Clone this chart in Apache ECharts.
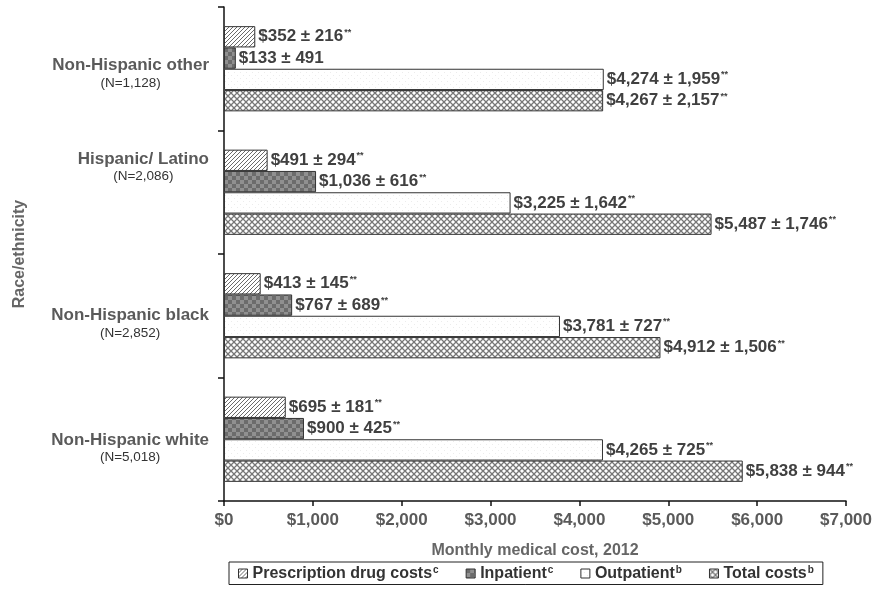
<!DOCTYPE html>
<html>
<head>
<meta charset="utf-8">
<script src="https://cdn.jsdelivr.net/npm/echarts@6/dist/echarts.min.js"></script>
<style>
  html, body { margin: 0; padding: 0; background: #fff; }
  #chart { width: 875px; height: 590px; }
</style>
</head>
<body>
<div id="chart"></div>
<script>
// Groups, listed top to bottom
const groups = ['Non-Hispanic other', 'Hispanic/ Latino', 'Non-Hispanic black', 'Non-Hispanic white'];
const groupN = ['1,128', '2,086', '2,852', '5,018'];

// Series names and their footnote marks
const seriesNames = ['Prescription drug costs', 'Inpatient', 'Outpatient', 'Total costs'];
const seriesNotes = ['c', 'c', 'b', 'b'];

// Mean monthly cost per group (USD), same order as groups
const rxMean = [352, 491, 413, 695];
const inpatientMean = [133, 1036, 767, 900];
const outpatientMean = [4274, 3225, 3781, 4265];
const totalMean = [4267, 5487, 4912, 5838];

// Standard deviations
const rxSd = [216, 294, 145, 181];
const inpatientSd = [491, 616, 689, 425];
const outpatientSd = [1959, 1642, 727, 725];
const totalSd = [2157, 1746, 1506, 944];

// Significance markers
const rxSig = ['**', '**', '**', '**'];
const inpatientSig = ['', '**', '**', '**'];
const outpatientSig = ['**', '**', '**', '**'];
const totalSig = ['**', '**', '**', '**'];

// X axis ticks
const xMin = 0, xMax = 7000, xStep = 1000;

const FONT = '"Liberation Sans", Arial, sans-serif';

function makeTile(w, h, draw) {
  const c = document.createElement('canvas');
  c.width = w; c.height = h;
  const ctx = c.getContext('2d');
  draw(ctx, w, h);
  return { image: c, repeat: 'repeat' };
}

// Fill patterns
const hatchFill = makeTile(4, 4, (ctx, w, h) => {
  ctx.fillStyle = '#fff'; ctx.fillRect(0, 0, w, h);
  ctx.strokeStyle = '#6a6a6a'; ctx.lineWidth = 1;
  ctx.beginPath();
  ctx.moveTo(-1, h + 1); ctx.lineTo(w + 1, -1);
  ctx.moveTo(-1, 1); ctx.lineTo(1, -1);
  ctx.moveTo(w - 1, h + 1); ctx.lineTo(w + 1, h - 1);
  ctx.stroke();
});
const checkFill = makeTile(8, 8, (ctx, w, h) => {
  ctx.fillStyle = '#909090'; ctx.fillRect(0, 0, w, h);
  ctx.fillStyle = '#6c6c6c';
  ctx.fillRect(0, 0, 4, 4); ctx.fillRect(4, 4, 4, 4);
});
const dotFill = makeTile(6, 6, (ctx, w, h) => {
  ctx.fillStyle = '#fff'; ctx.fillRect(0, 0, w, h);
  ctx.fillStyle = '#ececec';
  ctx.fillRect(0, 0, 1, 1); ctx.fillRect(3, 3, 1, 1);
});
const crossFill = makeTile(6, 6, (ctx, w, h) => {
  ctx.fillStyle = '#fff'; ctx.fillRect(0, 0, w, h);
  ctx.strokeStyle = '#777'; ctx.lineWidth = 1.3;
  ctx.beginPath();
  ctx.moveTo(0, 0); ctx.lineTo(w, h);
  ctx.moveTo(0, h); ctx.lineTo(w, 0);
  ctx.stroke();
});

const fills = [hatchFill, checkFill, dotFill, crossFill];
const means = [rxMean, inpatientMean, outpatientMean, totalMean];
const sds = [rxSd, inpatientSd, outpatientSd, totalSd];
const sigs = [rxSig, inpatientSig, outpatientSig, totalSig];

const fmt = v => v.toLocaleString('en-US');

// Vertical nudges for the group labels (top, bottom padding)
const labelPad = [[10, 0, 0, 0], [0, 0, 50, 0], [16, 0, 0, 0], [18, 0, 0, 0]];

const series = seriesNames.map((name, s) => ({
  name: name,
  type: 'bar',
  barGap: '0%',
  barCategoryGap: '31%',
  data: means[s].map(v => v),
  itemStyle: { color: fills[s], borderColor: '#333', borderWidth: 1 },
  label: {
    show: true,
    position: 'right',
    distance: 3,
    formatter: p => '{v|$' + fmt(p.value) + ' ± ' + fmt(sds[s][p.dataIndex]) + '}' +
      (sigs[s][p.dataIndex] ? '{s|' + sigs[s][p.dataIndex] + '}' : ''),
    rich: {
      v: { fontFamily: FONT, fontWeight: 'bold', fontSize: 17, color: '#404040' },
      s: { fontFamily: FONT, fontWeight: 'bold', fontSize: 9, color: '#404040', padding: [0, 0, 9, 1] }
    }
  }
}));

const chart = echarts.init(document.getElementById('chart'), null, { renderer: 'canvas' });
chart.setOption({
  animation: false,
  backgroundColor: '#fff',
  grid: { left: 224, right: 26, top: 7, bottom: 89, containLabel: false },
  xAxis: {
    type: 'value',
    min: xMin, max: xMax, interval: xStep,
    name: 'Monthly medical cost, 2012',
    nameLocation: 'middle',
    nameGap: 42,
    nameTextStyle: { fontFamily: FONT, fontWeight: 'bold', fontSize: 16, color: '#666' },
    splitLine: { show: false },
    axisLine: { show: true, lineStyle: { color: '#111', width: 1.5 } },
    axisTick: { show: true, length: 5, lineStyle: { color: '#111', width: 1.5 } },
    axisLabel: {
      margin: 11,
      fontFamily: FONT, fontWeight: 'bold', fontSize: 17, color: '#5a5a5a',
      formatter: v => '$' + fmt(v)
    }
  },
  yAxis: {
    type: 'category',
    inverse: true,
    data: groups.map((g, i) => ({ value: g, textStyle: { padding: labelPad[i] } })),
    name: 'Race/ethnicity',
    nameLocation: 'middle',
    nameRotate: 90,
    nameGap: 196,
    nameTextStyle: { fontFamily: FONT, fontWeight: 'bold', fontSize: 16, color: '#666' },
    axisLine: { show: true, lineStyle: { color: '#111', width: 1.5 } },
    axisTick: { show: true, length: 6, lineStyle: { color: '#111', width: 1.5 } },
    axisLabel: {
      margin: 15,
      formatter: (v, i) => '{n|' + v + '}\n{c|(N=' + groupN[i] + ')}',
      rich: {
        n: { fontFamily: FONT, fontWeight: 'bold', fontSize: 17, color: '#5a5a5a', align: 'center', lineHeight: 19 },
        c: { fontFamily: FONT, fontSize: 13.5, color: '#333', align: 'center', lineHeight: 16 }
      }
    }
  },
  legend: {
    left: 229, top: 562,
    orient: 'horizontal',
    borderColor: '#222', borderWidth: 1,
    padding: [3, 9, 3, 9],
    itemGap: 27,
    itemWidth: 9, itemHeight: 9,
    icon: 'rect',
    data: seriesNames,
    formatter: name => '{n|' + name + '}{s|' + seriesNotes[seriesNames.indexOf(name)] + '}',
    textStyle: {
      rich: {
        n: { fontFamily: FONT, fontWeight: 'bold', fontSize: 16, color: '#333' },
        s: { fontFamily: FONT, fontWeight: 'bold', fontSize: 10, color: '#333', padding: [0, 0, 7, 1] }
      }
    },
    itemStyle: { borderColor: '#333', borderWidth: 1 }
  },
  series: series
});
</script>
</body>
</html>
